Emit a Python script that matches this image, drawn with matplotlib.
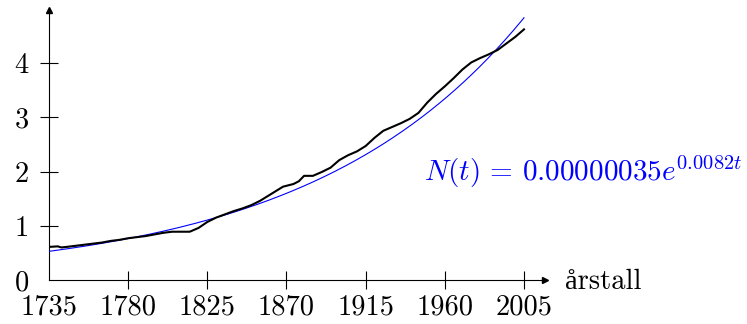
import numpy as np
import matplotlib
matplotlib.use("Agg")
import matplotlib.pyplot as plt

plt.rcParams['font.family'] = ['cmr10', 'DejaVu Serif']
plt.rcParams['mathtext.fontset'] = 'cm'
plt.rcParams['axes.formatter.use_mathtext'] = True

# Data (population, millions)
years = [1735, 1740, 1742, 1745, 1750, 1755, 1760, 1765, 1770, 1775, 1780, 1785,
         1790, 1795, 1800, 1805, 1810, 1815, 1820, 1825, 1830, 1835, 1840,
         1845, 1850, 1855, 1860, 1865, 1868, 1874, 1877, 1880, 1885, 1890, 1895,
         1900, 1905, 1910, 1915, 1920, 1925, 1930, 1935, 1940, 1945, 1950, 1955,
         1960, 1965, 1970, 1975, 1980, 1985, 1990, 1995, 2000, 2005]
population = [0.61, 0.62, 0.60, 0.61, 0.63, 0.65, 0.67, 0.69, 0.72, 0.74, 0.77, 0.79,
              0.81, 0.84, 0.87, 0.89, 0.89, 0.89, 0.96, 1.07, 1.15, 1.21, 1.27,
              1.32, 1.38, 1.46, 1.56, 1.66, 1.72, 1.77, 1.82, 1.92, 1.92, 1.99, 2.07,
              2.21, 2.30, 2.37, 2.47, 2.62, 2.75, 2.82, 2.89, 2.97, 3.08, 3.27, 3.43,
              3.57, 3.72, 3.88, 4.01, 4.09, 4.16, 4.24, 4.36, 4.48, 4.62]

# Fitted model N(t) = a * exp(k t)
fit_a = 0.00000035
fit_k = 0.0082
fit_range = [1735, 2005]

xticks = [1735, 1780, 1825, 1870, 1915, 1960, 2005]
yticks = [0, 1, 2, 3, 4]

W, H = 747, 324
fig = plt.figure(figsize=(W / 100, H / 100), dpi=100)
x0, y0 = 49, 280
xend, ytop = 545, 10
ax = fig.add_axes([x0 / W, (H - y0) / H, (xend - x0) / W, (y0 - ytop) / H])

pxyr = (524 - 49) / 270
pxunit = (280 - 63) / 4
ax.set_xlim(1735, 1735 + (xend - x0) / pxyr)
ax.set_ylim(0, (y0 - ytop) / pxunit)

t = np.linspace(fit_range[0], fit_range[1], 400)
ax.plot(t, fit_a * np.exp(fit_k * t), color='#0000ff', lw=0.8, zorder=3)
ax.plot(years, population, color='black', lw=1.5, zorder=4)

for s in ['top', 'right']:
    ax.spines[s].set_visible(False)
for s in ['left', 'bottom']:
    ax.spines[s].set_linewidth(0.8)

ax.set_xticks(xticks)
ax.set_yticks(yticks)
ax.set_xticklabels([str(v) for v in xticks])
ax.set_yticklabels([str(v) for v in yticks])
ax.tick_params(axis='both', direction='inout', length=13, width=0.8,
               labelsize=20.5)
ax.tick_params(axis='x', pad=4)
ax.tick_params(axis='y', pad=8)
ax.xaxis.get_major_ticks()[0].tick1line.set_visible(False)
ax.yaxis.get_major_ticks()[0].tick1line.set_visible(False)

# arrow heads
ax.plot(1, 0, marker='>', color='black', markersize=5, transform=ax.transAxes,
        clip_on=False)
ax.plot(0, 1, marker='^', color='black', markersize=5, transform=ax.transAxes,
        clip_on=False)

fig.text(565 / W, (H - 289) / H, 'årstall',
         family=['cmr10', 'Liberation Serif'],
         fontsize=20.5, va='baseline', ha='left')
fig.text(742 / W, (H - 181) / H, r'$N(t)\,=\,0.00000035e^{0.0082t}$',
         color='#0000ff', fontsize=21, va='baseline', ha='right')

fig.savefig('out.png', dpi=100)
